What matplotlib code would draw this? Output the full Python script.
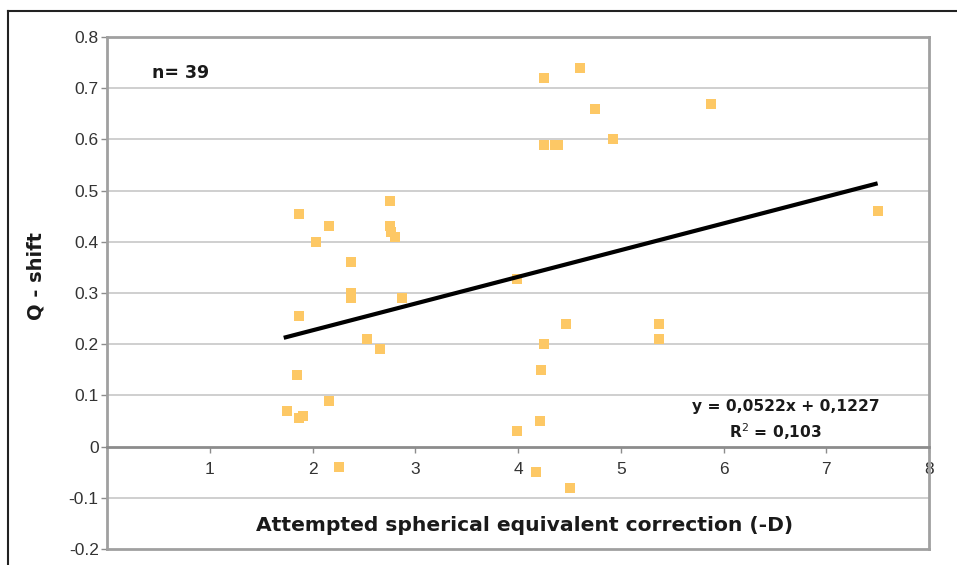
import matplotlib.pyplot as plt
from matplotlib.lines import Line2D
import numpy as np

# ----------------------------------------------------------------
# data
# ----------------------------------------------------------------
correction = [1.75, 1.85, 1.87, 1.87, 1.87, 1.91, 2.03, 2.16, 2.16, 2.26,
              2.37, 2.37, 2.37, 2.53, 2.66, 2.75, 2.75, 2.76, 2.80, 2.87,
              3.99, 3.99, 4.18, 4.21, 4.22, 4.25, 4.25, 4.25, 4.36, 4.39,
              4.47, 4.51, 4.60, 4.75, 4.92, 5.37, 5.37, 5.88, 7.50]
q_shift = [0.07, 0.14, 0.455, 0.255, 0.055, 0.06, 0.40, 0.43, 0.09, -0.04,
           0.36, 0.30, 0.29, 0.21, 0.19, 0.48, 0.43, 0.42, 0.41, 0.29,
           0.327, 0.03, -0.05, 0.05, 0.15, 0.72, 0.59, 0.20, 0.59, 0.59,
           0.24, -0.08, 0.74, 0.66, 0.60, 0.24, 0.21, 0.67, 0.46]
slope = 0.0522
intercept = 0.1227
r_squared = 0.103
x_ticks = [1, 2, 3, 4, 5, 6, 7, 8]
y_ticks = [-0.2, -0.1, 0, 0.1, 0.2, 0.3, 0.4, 0.5, 0.6, 0.7, 0.8]
y_tick_labels = ['-0.2', '-0.1', '0', '0.1', '0.2', '0.3', '0.4', '0.5', '0.6', '0.7', '0.8']

# ----------------------------------------------------------------
W, H = 957, 565
fig = plt.figure(figsize=(W / 100, H / 100), dpi=100)
ax = fig.add_axes([107 / W, 16 / H, 822 / W, 512 / H])

border = '#a0a0a0'
grid = '#cfcfcf'

ax.set_xlim(0, 8)
ax.set_ylim(-0.2, 0.8)

# gridlines
for yv in y_ticks:
    if yv not in (0, -0.2, 0.8):
        ax.axhline(yv, color=grid, lw=1.4, zorder=1)

# spines: border in gray, x axis crossing at y = 0
for side in ['top', 'left', 'right']:
    ax.spines[side].set_color(border)
    ax.spines[side].set_linewidth(2)
ax.spines['bottom'].set_position(('data', 0))
ax.spines['bottom'].set_color('#8c8c8c')
ax.spines['bottom'].set_linewidth(2)
ax.axhline(-0.2, color=border, lw=2, clip_on=False, zorder=3)

ax.set_xticks(x_ticks)
ax.set_xticklabels([str(t) for t in x_ticks])
ax.set_yticks(y_ticks)
ax.set_yticklabels(y_tick_labels)
ax.tick_params(axis='x', direction='out', length=4, width=1, color='#8c8c8c',
               pad=7, labelsize=12.5, labelcolor='#333333')
ax.tick_params(axis='y', direction='out', length=4, width=1, color='#8c8c8c',
               pad=2, labelsize=12.5, labelcolor='#333333')
for lab in ax.get_xticklabels() + ax.get_yticklabels():
    lab.set_family('Liberation Sans')

# points and trend line
ax.plot(correction, q_shift, 's', color='#fdc865', markersize=6.5,
        markeredgewidth=0, zorder=4)
x_fit = np.array([min(correction) - 0.03, max(correction)])
ax.plot(x_fit, slope * x_fit + intercept, color='black', lw=3,
        solid_capstyle='butt', zorder=5)

# labels
ax.text(4.06, -0.165, 'Attempted spherical equivalent correction (-D)',
        ha='center', va='baseline', fontsize=14.6, fontweight='bold',
        family='DejaVu Sans', color='#1a1a1a')
fig.text(36 / W, 1 - 276 / H, 'Q - shift', rotation=90, ha='center', va='center',
         fontsize=14, fontweight='bold', family='DejaVu Sans', color='#1a1a1a')
ax.text(0.44, 0.73, 'n= 39', ha='left', va='center', fontsize=12.5,
        fontweight='bold', family='DejaVu Sans', color='#1a1a1a')
eq_text = f'y = {slope:.4f}x + {intercept:.4f}'.replace('.', ',')
r2_text = 'R$^2$ = ' + f'{r_squared:.3f}'.replace('.', ',')
ax.text(6.61, 0.0695, eq_text, ha='center', va='baseline',
        fontsize=11.2, fontweight='bold', family='DejaVu Sans', color='#1a1a1a')
ax.text(6.505, 0.017, r2_text, ha='center', va='baseline', fontsize=11.2,
        fontweight='bold', family='DejaVu Sans', color='#1a1a1a')

# outer frame (left and top edges visible)
fig.add_artist(Line2D([8 / W, 8 / W], [0, 1 - 11 / H], transform=fig.transFigure,
                      color='#222222', lw=1.5))
fig.add_artist(Line2D([8 / W, 1], [1 - 11 / H, 1 - 11 / H], transform=fig.transFigure,
                      color='#222222', lw=1.5))

fig.savefig('out.png', dpi=100)
